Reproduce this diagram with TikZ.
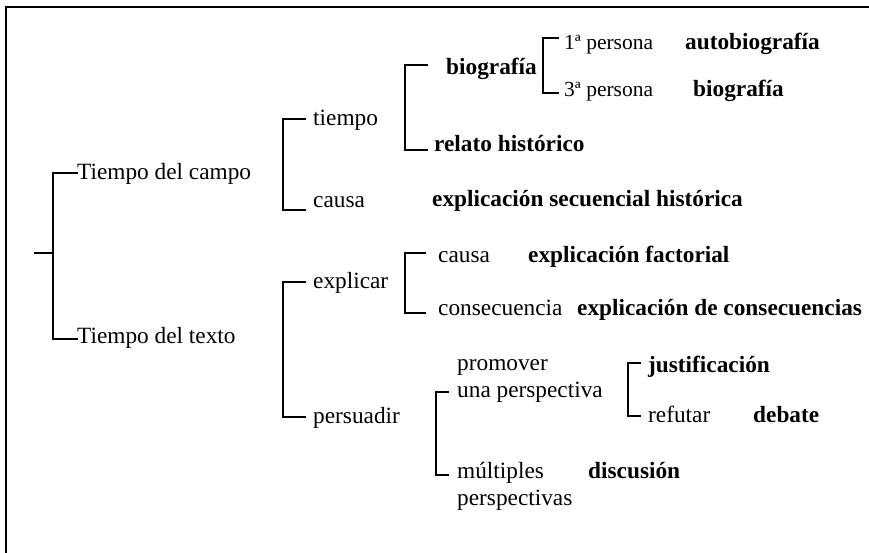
\documentclass[tikz,border=0pt]{standalone}
\usepackage{fontspec}
\setmainfont{Liberation Serif}
\begin{document}
\begin{tikzpicture}[x=1pt,y=-1pt,
  lbl/.style={anchor=base west,inner sep=0pt,font=\fontsize{23.3}{27}\selectfont},
  blbl/.style={lbl,font=\fontsize{23.3}{27}\selectfont\bfseries},
  slbl/.style={lbl,font=\fontsize{21.5}{25}\selectfont},
  brk/.style={line width=1.6pt,line cap=rect},
  frame/.style={line width=2pt}]
\useasboundingbox (0,0) rectangle (869,553);
% frame
\coordinate (fTL) at (6,7);
\coordinate (fTR) at (869,7);
\coordinate (fBL) at (6,553);
\draw[frame] (fBL) -- (fTL) -- (fTR);

% texts
\node[lbl] (campo) at (77,180) {Tiempo del campo};
\node[lbl] (texto) at (77,343) {Tiempo del texto};
\node[lbl] (tiempo) at (313,126) {tiempo};
\node[lbl] (causa1) at (313,208) {causa};
\node[blbl] (bio1) at (446,75) {biografía};
\node[blbl] (relato) at (434,152) {relato histórico};
\node[blbl] (secu) at (432,207) {explicación secuencial histórica};
\node[slbl] (p1) at (564,50) {1ª persona};
\node[blbl] (auto) at (685,50) {autobiografía};
\node[slbl] (p3) at (564,97) {3ª persona};
\node[blbl] (bio2) at (693,97) {biografía};
\node[lbl] (explicar) at (313,288) {explicar};
\node[lbl] (persuadir) at (313,423) {persuadir};
\node[lbl] (causa2) at (438,262) {causa};
\node[blbl] (factorial) at (528,262) {explicación factorial};
\node[lbl] (conse) at (438,315) {consecuencia};
\node[blbl] (econse) at (577,315) {explicación de consecuencias};
\node[lbl] (promover) at (457,370) {promover};
\node[lbl] (una) at (457,397) {una perspectiva};
\node[lbl] (multiples) at (457,478) {múltiples};
\node[lbl] (perspectivas) at (457,505) {perspectivas};
\node[blbl] (discusion) at (588,478) {discusión};
\node[blbl] (justif) at (648,372) {justificación};
\node[lbl] (refutar) at (648,422) {refutar};
\node[blbl] (debate) at (753,422) {debate};

% bracket end points
\coordinate (root) at (35,253);
\coordinate (rootV) at (53,253);
\coordinate (cCampo) at (77,173);
\coordinate (cTexto) at (77,339);
\coordinate (cTiempo) at (305,119);
\coordinate (cCausa1) at (305,210);
\coordinate (cExplicar) at (305,282);
\coordinate (cPersuadir) at (305,417);
\coordinate (cBio1) at (427,65);
\coordinate (cRelato) at (427,150);
\coordinate (cP1) at (558,38);
\coordinate (cP3) at (558,93);
\coordinate (cCausa2) at (425,253);
\coordinate (cConse) at (425,313);
\coordinate (cUna) at (448,392);
\coordinate (cMult) at (448,475);
\coordinate (cJust) at (640,363);
\coordinate (cRef) at (640,416);

\draw[brk] (root) -- (rootV);
\draw[brk] (cCampo) -- ++(-24,0) |- (cTexto);
\draw[brk] (cTiempo) -- ++(-22,0) |- (cCausa1);
\draw[brk] (cExplicar) -- ++(-22,0) |- (cPersuadir);
\draw[brk] (cBio1) -- ++(-22,0) |- (cRelato);
\draw[brk] (cP1) -- ++(-15,0) |- (cP3);
\draw[brk] (cCausa2) -- ++(-20,0) |- (cConse);
\draw[brk] (cUna) -- ++(-12,0) |- (cMult);
\draw[brk] (cJust) -- ++(-12,0) |- (cRef);
\end{tikzpicture}
\end{document}
